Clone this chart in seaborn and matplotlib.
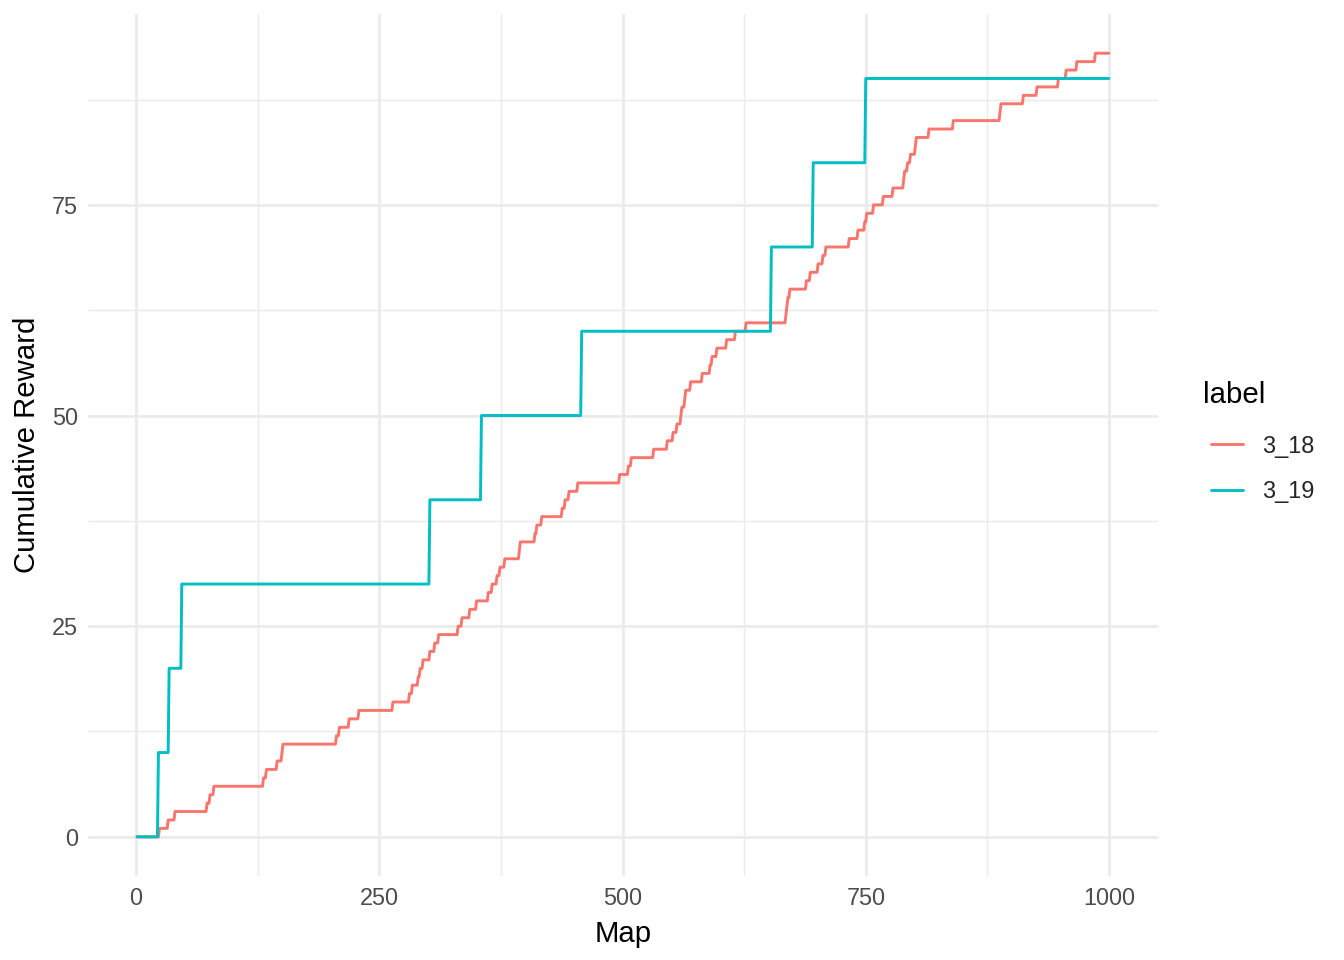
import numpy as np
import pandas as pd
import matplotlib
matplotlib.use("Agg")
import matplotlib.pyplot as plt
from matplotlib.ticker import FixedLocator
import seaborn as sns

# --- data ---
MAPS = np.arange(1, 1001)

# maps at which 3_18 gains one unit of reward
RED_STEPS = [24, 33, 40, 73, 76, 80, 131, 134, 145, 150,
             151, 206, 209, 219, 229, 264, 281, 284, 290, 292,
             295, 302, 307, 311, 331, 335, 343, 350, 362, 366,
             371, 374, 379, 394, 395, 410, 412, 417, 438, 441,
             445, 454, 497, 506, 509, 532, 546, 552, 556, 560,
             561, 564, 565, 570, 582, 590, 592, 597, 607, 616,
             627, 668, 669, 670, 672, 689, 693, 701, 706, 709,
             733, 742, 749, 751, 758, 768, 778, 789, 790, 793,
             796, 801, 802, 815, 840, 888, 889, 912, 926, 948,
             956, 967, 986]

# maps at which 3_19 jumps, and the level it reaches
TEAL_STEPS = [23, 34, 47, 302, 355, 458, 653, 696, 750]
TEAL_LEVELS = [10, 20, 30, 40, 50, 60, 70, 80, 90]

LABELS = ["3_18", "3_19"]
COLORS = {"3_18": "#F8766D", "3_19": "#00BFC4"}

X_TICKS = [0, 250, 500, 750, 1000]
Y_TICKS = [0, 25, 50, 75]


def cumulative(steps, levels, maps):
    idx = np.searchsorted(steps, maps, side="right")
    lv = np.concatenate([[0], levels])
    return lv[idx]


red = cumulative(RED_STEPS, np.arange(1, len(RED_STEPS) + 1), MAPS)
teal = cumulative(TEAL_STEPS, TEAL_LEVELS, MAPS)

df = pd.concat([
    pd.DataFrame({"Map": MAPS, "Cumulative Reward": red, "label": LABELS[0]}),
    pd.DataFrame({"Map": MAPS, "Cumulative Reward": teal, "label": LABELS[1]}),
], ignore_index=True)

# --- styling (ggplot2 theme_minimal look) ---
sns.set_theme(style="white")
plt.rcParams["font.family"] = ["Liberation Sans", "DejaVu Sans"]

W, H = 1344, 960
fig = plt.figure(figsize=(7, 5), dpi=192)
ax = fig.add_axes([0.0658, 0.0875, 0.7955, 0.8979])

sns.lineplot(data=df, x="Map", y="Cumulative Reward", hue="label",
             palette=COLORS, hue_order=LABELS, linewidth=1.1,
             estimator=None, ax=ax)

ax.set_xlim(-48.95, 1049.95)
ax.set_ylim(-4.65, 97.65)

ax.xaxis.set_major_locator(FixedLocator(X_TICKS))
ax.xaxis.set_minor_locator(FixedLocator([125, 375, 625, 875]))
ax.yaxis.set_major_locator(FixedLocator(Y_TICKS))
ax.yaxis.set_minor_locator(FixedLocator([12.5, 37.5, 62.5, 87.5]))
ax.set_xticklabels([str(t) for t in X_TICKS])
ax.set_yticklabels([str(t) for t in Y_TICKS])

ax.grid(which="major", color="#EBEBEB", linewidth=1.07)
ax.grid(which="minor", color="#EBEBEB", linewidth=0.53)
ax.set_axisbelow(True)
for s in ax.spines.values():
    s.set_visible(False)

ax.tick_params(axis="both", which="both", length=0, labelsize=8.8,
               labelcolor="#4D4D4D", pad=4)
ax.set_xlabel("Map", fontsize=11, color="black", labelpad=4)
ax.set_ylabel("Cumulative Reward", fontsize=11, color="black", labelpad=4)

# legend: title as its own text, keys below it
ax.get_legend().remove()
handles, labels = ax.get_legend_handles_labels()
fig.text(1203 / W, 1 - 395 / H, "label", fontsize=11, color="black",
         ha="left", va="center")
leg = fig.legend(handles, labels, loc="center left",
                 bbox_to_anchor=(1211 / W, 1 - 469 / H),
                 frameon=False, fontsize=8.8, handlelength=1.36,
                 handletextpad=0.8, labelspacing=0.97,
                 borderpad=0, borderaxespad=0)
for line in leg.get_lines():
    line.set_linewidth(1.1)

fig.savefig("out.png", dpi=192)
